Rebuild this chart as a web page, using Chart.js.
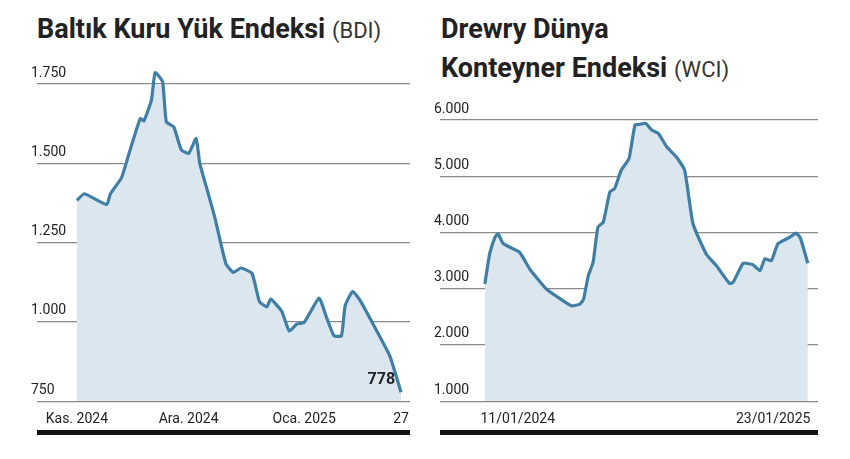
<!DOCTYPE html>
<html><head><meta charset="utf-8">
<script src="https://cdn.jsdelivr.net/npm/chart.js@4"></script>
<style>
body{margin:0;width:850px;height:459px;background:#fff;position:relative;overflow:hidden;font-family:'Liberation Sans Narrow','Roboto',sans-serif;}
.t{position:absolute;font-weight:bold;font-size:27px;color:#222;letter-spacing:0px;}
.t span{font-weight:normal;font-size:22px;color:#333;}
.bar{position:absolute;height:5px;background:#111;top:430px;}
canvas{position:absolute;}
</style></head><body>
<div class="t" style="left:37px;top:13px">Baltık Kuru Yük Endeksi <span>(BDI)</span></div>
<div class="t" style="left:441px;top:13px">Drewry Dünya</div>
<div class="t" style="left:441px;top:52px">Konteyner Endeksi <span>(WCI)</span></div>
<div class="bar" style="left:37px;width:373px"></div>
<div class="bar" style="left:440px;width:378px"></div>
<div style="position:absolute;left:30px;top:60px;width:390px;height:370px"><canvas id="c1"></canvas></div>
<div style="position:absolute;left:430px;top:96px;width:398px;height:334px"><canvas id="c2"></canvas></div>
<script>
const bdiDays=[0,2,8,9,12,14,17,18,20,21,23,24,26,28,30,32,33,35,37,40,42,44,47,49,51,52,55,57,59,61,65,67,69,71,72,74,76,80,84,87];
const bdiValues=[1383,1404,1370,1404,1455,1531,1641,1634,1699,1786,1757,1631,1615,1543,1531,1578,1499,1415,1330,1183,1156,1170,1153,1064,1047,1072,1033,971,993,998,1075,1014,956,956,1051,1096,1068,982,892,778];
const bdiTickPos=[0,30,61,87];
const bdiTickLabels=['Kas. 2024','Ara. 2024','Oca. 2025','27'];
const wciWeeks=[0,0.8,1.7,2.2,3.1,5.8,7.5,10.3,13.1,14.5,15.9,16.5,17.3,18.1,18.9,19.8,20.9,21.7,22.8,24.1,25.1,25.9,26.9,27.9,29.0,30.4,32.0,33.4,34.8,37.0,38.7,40.9,41.5,43.2,44.8,46.0,46.8,47.9,49.0,51.0,52.0,52.7,54.0];
const wciValues=[3083,3619,3917,3976,3798,3649,3351,2994,2786,2696,2726,2815,3232,3470,4095,4184,4720,4780,5107,5315,5911,5923,5940,5821,5762,5524,5345,5107,4155,3619,3411,3095,3113,3452,3428,3321,3530,3500,3798,3917,3988,3917,3452];
const wciTickPos=[5.5,48.2];
const wciTickLabels=['11/01/2024','23/01/2025'];

const FONT="'Liberation Sans Narrow','Roboto',sans-serif";
const fmt=v=>v.toString().replace(/\B(?=(\d{3})+(?!\d))/g,'.');
function mk(id,xs,ys,xmin,xmax,ymin,ymax,step,tp,tl,pad,lastLabel){
  const plugins=[];
  if(lastLabel){plugins.push({id:'lbl',afterDatasetsDraw(ch){
    const p=ch.getDatasetMeta(0).data; const pt=p[p.length-1];
    const c=ch.ctx;c.save();c.font="bold 16px "+FONT;c.fillStyle='#222';c.textAlign='right';c.textBaseline='bottom';
    c.fillText(lastLabel,pt.x-6,pt.y-4);c.restore();}});}
  new Chart(document.getElementById(id),{type:'line',
    data:{datasets:[{data:xs.map((x,i)=>({x:x,y:ys[i]})),borderColor:'#3f7fa5',borderWidth:3.2,backgroundColor:'#dce6ef',fill:'start',pointRadius:0,tension:0.15,clip:false}]},
    options:{responsive:true,maintainAspectRatio:false,animation:false,
      layout:{padding:pad},
      plugins:{legend:{display:false},tooltip:{enabled:false}},
      scales:{
        x:{type:'linear',min:xmin,max:xmax,grid:{display:false},border:{display:false},
          afterBuildTicks(ax){ax.ticks=tp.map(v=>({value:v}));},
          ticks:{autoSkip:false,maxRotation:0,padding:2,color:'#222',font:{family:FONT,size:14},callback:(v)=>tl[tp.indexOf(v)]}},
        y:{min:ymin,max:ymax,grid:{color:'#8a8a8a',lineWidth:1.3,drawTicks:false},border:{display:false},
          ticks:{stepSize:step,mirror:true,labelOffset:-11,padding:-2,color:'#222',font:{family:FONT,size:14},callback:v=>fmt(v)}}
      }},plugins:plugins});
}
mk('c1',bdiDays,bdiValues,-10.7,89.4,750,1750,250,bdiTickPos,bdiTickLabels,{left:7,right:10,top:24,bottom:0},'778');
mk('c2',wciWeeks,wciValues,-7.5,55.7,1000,6000,1000,wciTickPos,wciTickLabels,{left:10,right:10,top:24,bottom:0},null);
</script></body></html>
